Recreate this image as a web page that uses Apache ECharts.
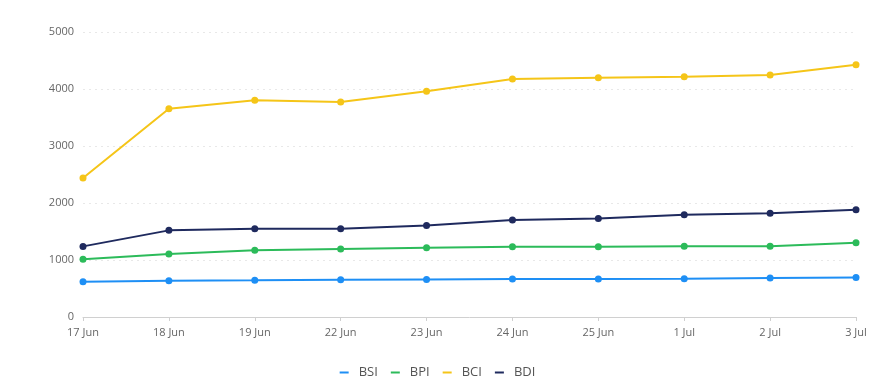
<!DOCTYPE html>
<html>
<head>
<meta charset="utf-8">
<script src="https://cdn.jsdelivr.net/npm/echarts@6/dist/echarts.min.js"></script>
<style>
html,body{margin:0;padding:0;background:#fff;}
#chart{width:875px;height:392px;}
</style>
</head>
<body>
<div id="chart"></div>
<script>
var categories = ['17 Jun','18 Jun','19 Jun','22 Jun','23 Jun','24 Jun','25 Jun','1 Jul','2 Jul','3 Jul'];
var bsi = [620, 637, 643, 655, 660, 667, 667, 672, 684, 695];
var bpi = [1011, 1105, 1169, 1193, 1216, 1233, 1233, 1240, 1240, 1304];
var bci = [2439, 3654, 3801, 3772, 3959, 4175, 4198, 4216, 4246, 4427];
var bdi = [1239, 1520, 1549, 1549, 1607, 1702, 1730, 1795, 1818, 1882];
var seriesNames = ['BSI','BPI','BCI','BDI'];
var colors = ['#1e8ff5','#2cbb5a','#f5c518','#1f2a5e'];

var font = '"Segoe UI", "Open Sans", "DejaVu Sans", sans-serif';
var chart = echarts.init(document.getElementById('chart'), null, {renderer:'canvas'});
function mk(name, data, color){
  return {
    name: name, type: 'line', data: data,
    symbol: 'circle', symbolSize: 7,
    itemStyle: {color: color},
    lineStyle: {color: color, width: 2},
    emphasis: {disabled: true}
  };
}
chart.setOption({
  animation: false,
  textStyle: {fontFamily: font},
  grid: {left: 83, right: 19, top: 32, bottom: 75, containLabel: false},
  legend: {
    bottom: 8, left: 'center',
    icon: 'rect', itemWidth: 9, itemHeight: 2, itemGap: 13,
    textStyle: {color: '#555', fontSize: 13, fontFamily: font, padding: [0, 0, 0, 5]},
    data: seriesNames.map(function(n, i){ return {name: n, itemStyle: {color: colors[i]}}; })
  },
  xAxis: {
    type: 'category', data: categories, boundaryGap: false,
    axisLine: {lineStyle: {color: '#d0d0d0', width: 1}},
    axisTick: {show: true, length: 4, lineStyle: {color: '#d0d0d0'}},
    axisLabel: {color: '#666', fontSize: 11, margin: 10, fontFamily: font, interval: 0}
  },
  yAxis: {
    type: 'value', min: 0, max: 5000, interval: 1000,
    axisLine: {show: false}, axisTick: {show: false},
    axisLabel: {color: '#666', fontSize: 11, margin: 9, fontFamily: font,
      formatter: function(v){ return String(v); }},
    splitLine: {lineStyle: {color: '#e8e8e8', type: [2, 4], width: 1}}
  },
  series: [mk('BSI', bsi, colors[0]), mk('BPI', bpi, colors[1]), mk('BCI', bci, colors[2]), mk('BDI', bdi, colors[3])]
});
</script>
</body>
</html>
